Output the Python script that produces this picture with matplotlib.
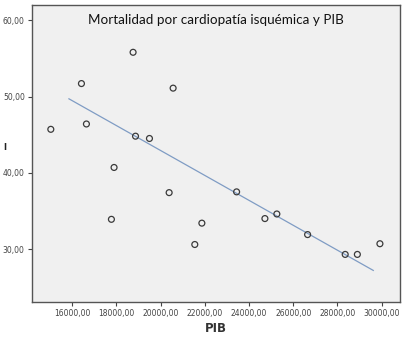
import numpy as np
import matplotlib
matplotlib.use("Agg")
import matplotlib.pyplot as plt

# Data
pib = [15040, 16425, 18760, 20570, 16650, 18870, 19500, 17900, 20390, 23440,
       17780, 21870, 24720, 25260, 26650, 21550, 28350, 28900, 29920]
mortalidad = [45.7, 51.7, 55.8, 51.1, 46.4, 44.8, 44.5, 40.7, 37.4, 37.5,
              33.9, 33.4, 34.0, 34.6, 31.9, 30.6, 29.3, 29.3, 30.7]
# fitted line as drawn in the reference (end points)
fit_x = [15860, 29620]
fit_y = [49.7, 27.2]
x_ticks = [16000, 18000, 20000, 22000, 24000, 26000, 28000, 30000]
y_ticks = [30, 40, 50, 60]
title = "Mortalidad por cardiopatía isquémica y PIB"

W, H = 410, 341
fig = plt.figure(figsize=(W / 100, H / 100), dpi=100)
fig.patch.set_facecolor("white")
ax = fig.add_axes([31.7 / W, 1 - 301.7 / H, (400 - 31.7) / W, (301.7 - 5) / H])
ax.set_facecolor("#f0f0f0")

ax.set_xlim(14176, 30828)
ax.set_ylim(23.1, 62.0)

ax.scatter(pib, mortalidad, s=18, facecolors="none", edgecolors="#3a3a3a",
           linewidths=0.9, zorder=3)
ax.plot(fit_x, fit_y, color="#7f9cc4", lw=0.9, zorder=2)

ax.set_xticks(x_ticks)
ax.set_xticklabels([f"{v},00" for v in x_ticks])
ax.set_yticks(y_ticks)
ax.set_yticklabels([f"{v},00" for v in y_ticks])
ax.tick_params(axis="both", labelsize=5.5, colors="#444444", length=3, width=0.8,
               pad=2)
for s in ax.spines.values():
    s.set_color("#555555")
    s.set_linewidth(1.0)

ax.set_xlabel("PIB", fontsize=8.5, fontweight="bold", color="#333333", labelpad=3)
ax.text(0.5, 1 - (20 - 5) / (301.7 - 5), title, transform=ax.transAxes,
        ha="center", va="center", fontsize=9.7, family="Lato", color="#111111")
fig.text(3 / W, 1 - 147 / H, "I", fontsize=6, color="#222222", va="center",
         ha="left", fontweight="bold")

fig.savefig("out.png", dpi=100)
